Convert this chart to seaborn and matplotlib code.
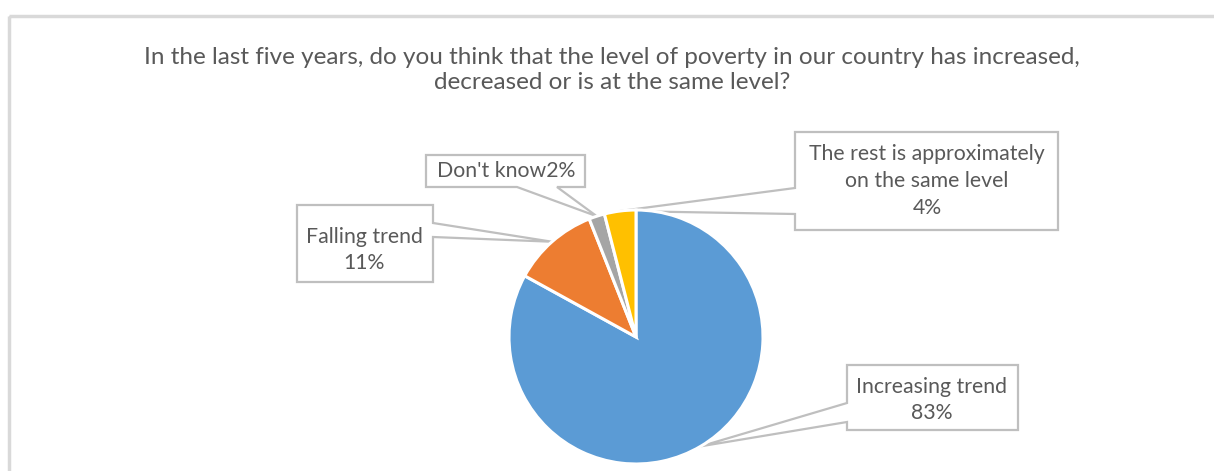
import matplotlib
matplotlib.use("Agg")
import matplotlib.pyplot as plt
from matplotlib.patches import Polygon, Rectangle
import numpy as np
import seaborn as sns

# Survey answers, clockwise from 12 o'clock
categories = ["Increasing trend", "Falling trend", "Don't know",
              "The rest is approximately\non the same level"]
shares = [83, 11, 2, 4]
label_joins = ["\n", "\n", "", "\n"]
title = ("In the last five years, do you think that the level of poverty in our country has increased,\n"
         "decreased or is at the same level?")

palette = sns.color_palette(["#5B9BD5", "#ED7D31", "#A5A5A5", "#FFC000"])

sns.set_theme(style="white")
plt.rcParams["font.family"] = ["Lato", "DejaVu Sans"]

W, H = 1214, 471
fig = plt.figure(figsize=(W / 100, H / 100), dpi=100)
ax = fig.add_axes([0, 0, 1, 1])

CX, CY, R = 636, 337, 127
wedges, _ = ax.pie(shares, colors=palette, startangle=270, counterclock=True,
                   center=(CX, CY), radius=R,
                   wedgeprops=dict(edgecolor="white", linewidth=2.2))

ax.set_xlim(0, W)
ax.set_ylim(H, 0)
ax.set_aspect("equal")
ax.axis("off")

# chart-area border
ax.add_patch(Rectangle((9, 16), W + 50, H + 50, facecolor="none",
                       edgecolor="#d9d9d9", linewidth=2.5, zorder=0))

ax.text(612, 70, title, ha="center", va="center", fontsize=17.5,
        color="#595959", linespacing=1.18)

# callout boxes: (x0, y0, x1, y1), side of pointer, pointer base span, text centre
callouts = [
    ((847, 365, 1018, 430), "left", (403, 422), (932, 400)),
    ((297, 205, 433, 282), "right", (223, 237), (364, 250)),
    ((426, 155, 585, 187), "bottom", (517, 557), (506, 171)),
    ((795, 132, 1058, 230), "left", (188, 214), (927, 181)),
]


def callout_shape(box, side, base, tip):
    x0, y0, x1, y1 = box
    b1, b2 = base
    if side == "left":
        return [(x0, y0), (x1, y0), (x1, y1), (x0, y1), (x0, b2), tip, (x0, b1)]
    if side == "right":
        return [(x0, y0), (x1, y0), (x1, b1), tip, (x1, b2), (x1, y1), (x0, y1)]
    return [(x0, y0), (x1, y0), (x1, y1), (b2, y1), tip, (b1, y1), (x0, y1)]


for wedge, cat, val, sep, (box, side, base, tpos) in zip(
        wedges, categories, shares, label_joins, callouts):
    mid = np.deg2rad((wedge.theta1 + wedge.theta2) / 2)
    tip = (CX + R * np.cos(mid), CY + R * np.sin(mid))
    ax.add_patch(Polygon(callout_shape(box, side, base, tip), closed=True,
                         facecolor="white", edgecolor="#bfbfbf",
                         linewidth=1.6, joinstyle="miter", zorder=0.5))
    ax.text(tpos[0], tpos[1], f"{cat}{sep}{val}%", ha="center", va="center",
            fontsize=15.3, color="#595959", linespacing=1.42, zorder=3)

fig.savefig("out.png", dpi=100, facecolor="white")
